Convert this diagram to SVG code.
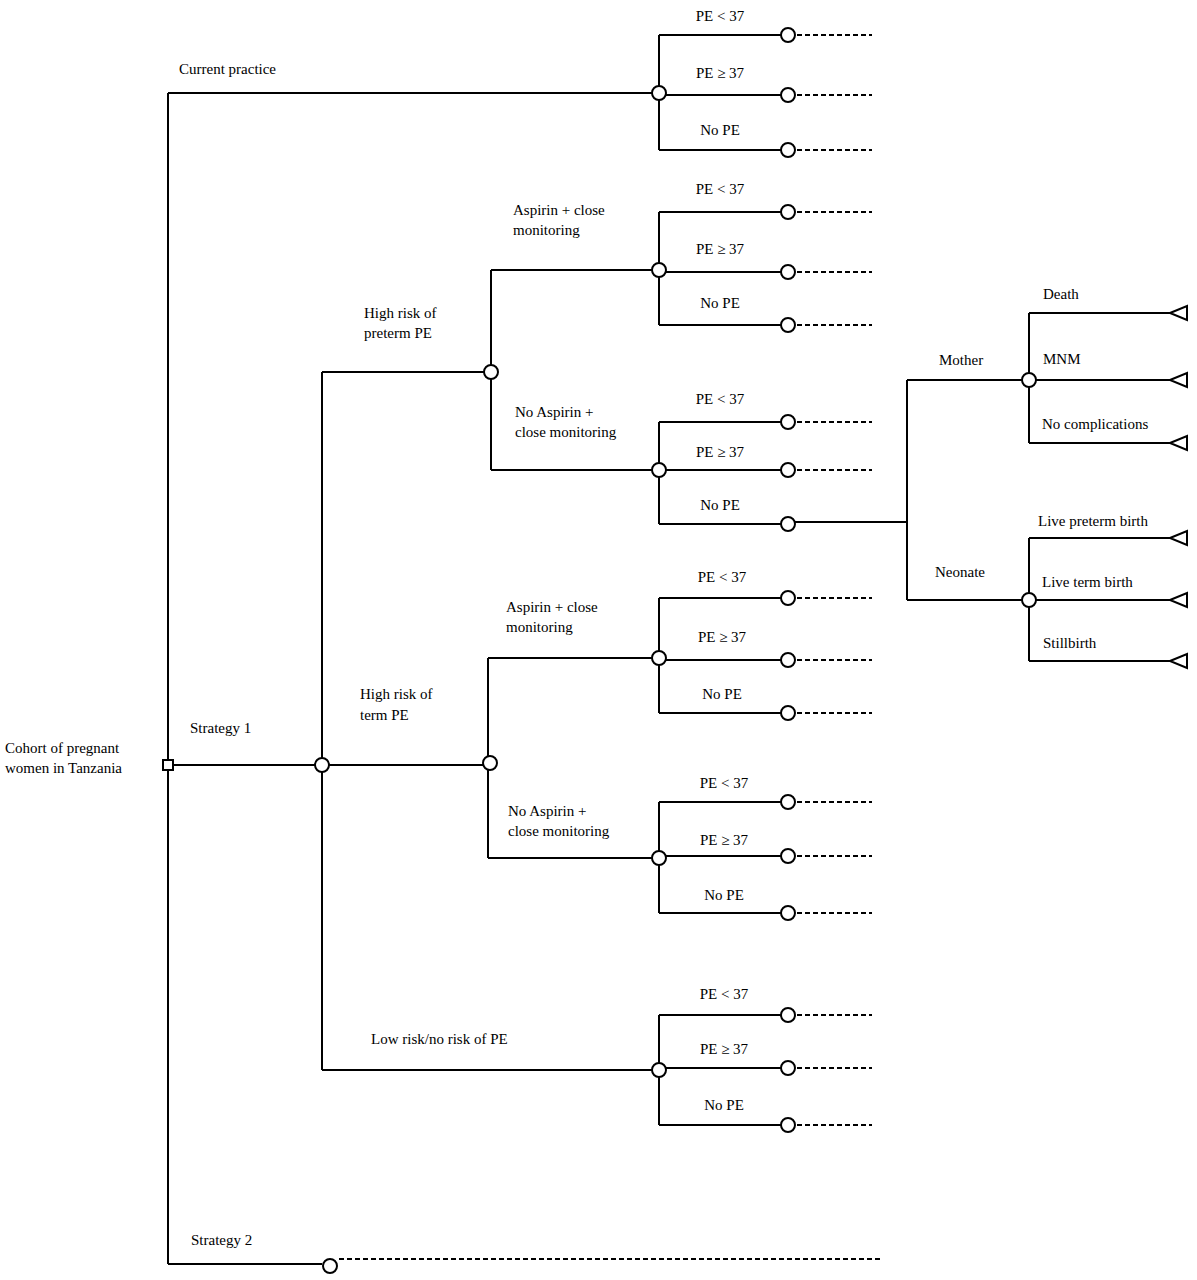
<svg xmlns="http://www.w3.org/2000/svg" width="1197" height="1280" viewBox="0 0 1197 1280">
<style>
.l{fill:none;stroke:#000;stroke-width:2}
.d{fill:none;stroke:#000;stroke-width:2;stroke-dasharray:5,3}
.c{fill:#fff;stroke:#000;stroke-width:2}
text{font-family:"Liberation Serif",serif;font-size:15px;fill:#000}
</style>
<rect width="1197" height="1280" fill="#fff"/>
<g id="connectors">
<path class="l" d="M168 93V1264M168 93H659M168 765H322M168 1264H322"/>
<path class="l" d="M659 35V150M659 35H788M659 95H788M659 150H788"/>
<path class="l" d="M322 372V1070M322 372H491M322 765H490M322 1070H659"/>
<path class="l" d="M491 270V470M491 270H659M491 470H659"/>
<path class="l" d="M659 212V325M659 212H788M659 272H788M659 325H788"/>
<path class="l" d="M659 422V524M659 422H788M659 470H788M659 524H788M788 522H907"/>
<path class="l" d="M907 380V600M907 380H1029M907 600H1029"/>
<path class="l" d="M1029 313V443M1029 313H1170M1029 380H1170M1029 443H1170"/>
<path class="l" d="M1029 538V661M1029 538H1170M1029 600H1170M1029 661H1170"/>
<path class="l" d="M488 658V858M490 763H488M488 658H659M488 858H659"/>
<path class="l" d="M659 598V713M659 598H788M659 660H788M659 713H788"/>
<path class="l" d="M659 802V913M659 802H788M659 856H788M659 913H788"/>
<path class="l" d="M659 1015V1125M659 1015H788M659 1068H788M659 1125H788"/>
<path class="d" d="M797 35H872M797 95H872M797 150H872M797 212H872M797 272H872M797 325H872M797 422H872M797 470H872M797 598H872M797 660H872M797 713H872M797 802H872M797 856H872M797 913H872M797 1015H872M797 1068H872M797 1125H872M339 1259H880"/>
</g>
<g id="nodes">
<rect class="c" x="163" y="760" width="10" height="10"/>
<circle class="c" cx="659" cy="93" r="7"/>
<circle class="c" cx="322" cy="765" r="7"/>
<circle class="c" cx="491" cy="372" r="7"/>
<circle class="c" cx="490" cy="763" r="7"/>
<circle class="c" cx="659" cy="1070" r="7"/>
<circle class="c" cx="659" cy="270" r="7"/>
<circle class="c" cx="659" cy="470" r="7"/>
<circle class="c" cx="659" cy="658" r="7"/>
<circle class="c" cx="659" cy="858" r="7"/>
<circle class="c" cx="1029" cy="380" r="7"/>
<circle class="c" cx="1029" cy="600" r="7"/>
<circle class="c" cx="330" cy="1266" r="7"/>
<g id="ends">
<circle class="c" cx="788" cy="35" r="7"/><circle class="c" cx="788" cy="95" r="7"/><circle class="c" cx="788" cy="150" r="7"/>
<circle class="c" cx="788" cy="212" r="7"/><circle class="c" cx="788" cy="272" r="7"/><circle class="c" cx="788" cy="325" r="7"/>
<circle class="c" cx="788" cy="422" r="7"/><circle class="c" cx="788" cy="470" r="7"/><circle class="c" cx="788" cy="524" r="7"/>
<circle class="c" cx="788" cy="598" r="7"/><circle class="c" cx="788" cy="660" r="7"/><circle class="c" cx="788" cy="713" r="7"/>
<circle class="c" cx="788" cy="802" r="7"/><circle class="c" cx="788" cy="856" r="7"/><circle class="c" cx="788" cy="913" r="7"/>
<circle class="c" cx="788" cy="1015" r="7"/><circle class="c" cx="788" cy="1068" r="7"/><circle class="c" cx="788" cy="1125" r="7"/>
</g>
<g id="terminals">
<path class="c" d="M1170 313L1187 306V320Z"/><path class="c" d="M1170 380L1187 373V387Z"/><path class="c" d="M1170 443L1187 436V450Z"/>
<path class="c" d="M1170 538L1187 531V545Z"/><path class="c" d="M1170 600L1187 593V607Z"/><path class="c" d="M1170 661L1187 654V668Z"/>
</g>
</g>
<g id="labels">
<text x="5" y="753">Cohort of pregnant</text><text x="5" y="773">women in Tanzania</text>
<text x="179" y="74">Current practice</text>
<text x="190" y="733">Strategy 1</text>
<text x="191" y="1245">Strategy 2</text>
<text x="364" y="318">High risk of</text><text x="364" y="338">preterm PE</text>
<text x="360" y="699">High risk of</text><text x="360" y="720">term PE</text>
<text x="371" y="1044">Low risk/no risk  of  PE</text>
<text x="513" y="215">Aspirin + close</text><text x="513" y="235">monitoring</text>
<text x="515" y="417">No Aspirin +</text><text x="515" y="437">close monitoring</text>
<text x="506" y="612">Aspirin + close</text><text x="506" y="632">monitoring</text>
<text x="508" y="816">No Aspirin +</text><text x="508" y="836">close monitoring</text>
<g text-anchor="middle">
<text x="720" y="21">PE &lt; 37</text><text x="720" y="78">PE ≥ 37</text><text x="720" y="135">No PE</text>
<text x="720" y="194">PE &lt; 37</text><text x="720" y="254">PE ≥ 37</text><text x="720" y="308">No PE</text>
<text x="720" y="404">PE &lt; 37</text><text x="720" y="457">PE ≥ 37</text><text x="720" y="510">No PE</text>
<text x="722" y="582">PE &lt; 37</text><text x="722" y="642">PE ≥ 37</text><text x="722" y="699">No PE</text>
<text x="724" y="788">PE &lt; 37</text><text x="724" y="845">PE ≥ 37</text><text x="724" y="900">No PE</text>
<text x="724" y="999">PE &lt; 37</text><text x="724" y="1054">PE ≥ 37</text><text x="724" y="1110">No PE</text>
</g>
<text x="939" y="365">Mother</text>
<text x="935" y="577">Neonate</text>
<text x="1043" y="299">Death</text>
<text x="1043" y="364">MNM</text>
<text x="1042" y="429">No complications</text>
<text x="1038" y="526">Live preterm birth</text>
<text x="1042" y="587">Live term birth</text>
<text x="1043" y="648">Stillbirth</text>
</g>
</svg>
